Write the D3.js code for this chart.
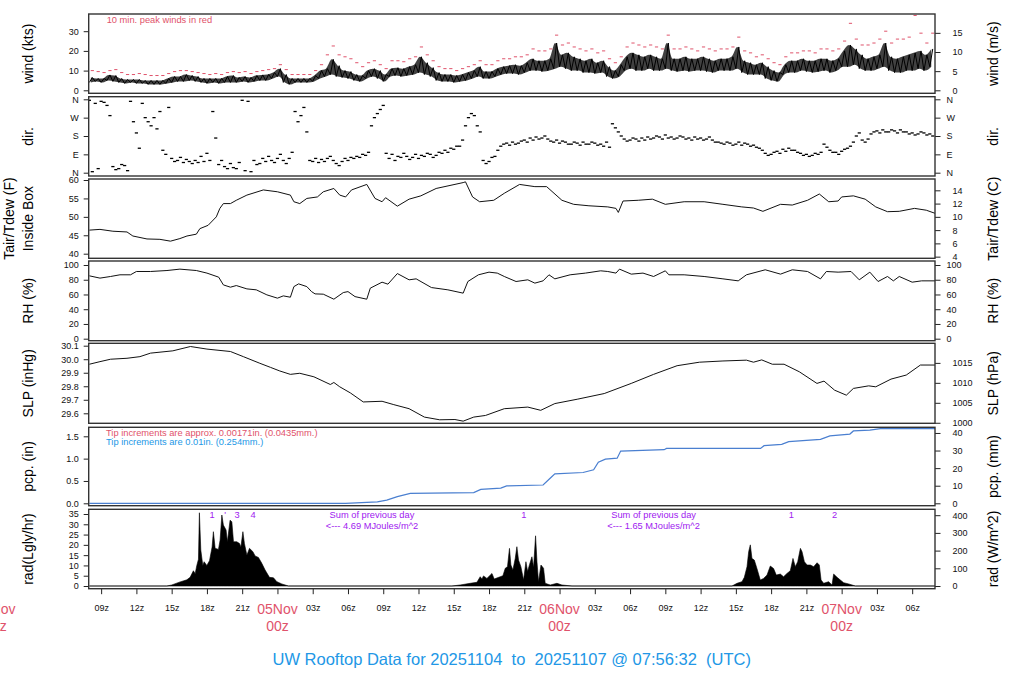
<!DOCTYPE html>
<html><head><meta charset="utf-8">
<script src="https://cdn.jsdelivr.net/npm/d3@7/dist/d3.min.js"></script>
<style>
body{margin:0;background:#fff;}
svg{display:block;font-family:"Liberation Sans",Arial,Helvetica,sans-serif;}
</style></head><body>
<svg id="c" width="1024" height="700"></svg>
<script>
// ---------------- DATA (hours are counted from 04Nov 00z UTC) ----------------
const startHour = 7.942, endHour = 79.942;           // 04Nov 07:56:32 .. 07Nov 07:56:32
const binStartHour = 8, binStepHour = 0.5;           // 30-min bins for wind / gust / direction

const windLoKts = [
 4,4.5,4,5,4.5,4,3.5,4,3.5,3.5,3,3,
 3,3.5,4,4.5,4.5,5,4.5,4,3.5,4,3.5,4,
 4,4,4.5,4,4.5,5,5,6,7,4,3,4,
 4,4,4.5,6,7,8,7,6.5,6,5,4.5,6,
 7,6,4.5,7,7.5,7,7.5,8,9,8,7,5,
 4.5,4.5,4,4.5,5,6,7,6,6,7,8,8.5,
 8.5,8,9,10,10,9.5,10,11,12,11,10,10,
 9,9,8.5,9,7,6,7,10,11,10,10,11,
 10,10,11,10,9.5,10,9.5,10,10,9.5,9,10,
 10,10,11,9,8,8,8,6,5,4.5,8,9,
 9,10,9.5,9,9.5,10,9,10,12,12,13,11,
 10,10,11,12,10,9,9,10,10,11,10,12];
const windHiKts = [
 6.5,6,6,7.8,7.5,6,5.5,5.5,5.5,5,5,5,
 5,6,7,7,8,7.5,7,6,6,6,6,7,
 7.5,6.5,7,6.5,7.5,7.8,8,9,11,8,6,6,
 6,6,7.5,10,11,15.7,12.5,10,9.5,8,7.5,10,
 11,10,8,11,11.5,11,12,13,17,14,11.5,9,
 8,8,7.5,8,9,10,12,9.5,9.5,11,12,12.5,
 13,12.5,14,16,15,15,16,24,18,19,17,16,
 15,16,14,15,12,10,13,17,19,18,17,18,
 17,16,24,16,16,17,16,16,17,16,15,16,
 16,17,22,15,14,13,14,12,10,9,13,15,
 15,16,15,15,16,16,15,16,20,23,21,18,
 16,17,18,24,17,16,17,18,19,20,18,21];
const gustKts = [
 10,9.5,9,10,10.5,9,8,8,8.5,8,7.5,7.5,
 7.5,8.5,9.5,10,10,9.5,9,8.5,8,8.5,8,9,
 9.5,9,9.5,8.5,9.5,10,10.5,11,13,10.5,8,8,
 8,8,10,13,18,22.5,18,17,16,14,12,14,
 15,13,11,15,15,14.5,16,17,22,18,15,12,
 11,11,10,11,12,13,15,13,13,15,16,16,
 17,17,18,21,20,20,21,28,23,24,22,21,
 20,21,19,20,16,14,17,22,24,23,22,23,
 22,21,28,21,21,22,21,20,22,21,20,21,
 21,22,27,20,19,17,18,16,14,13,17,19,
 19,20,20,19,21,21,20,21,25,34,26,23,
 23,24,26,30,24,26,26,27,38,29,24,29];
const dirA = [
 355,340,350,330,30,20,35,350,195,340,250,270,
 300,90,70,60,50,55,60,80,95,300,40,30,
 45,20,355,350,60,45,55,60,70,60,70,300,
 280,200,55,50,55,80,45,55,60,70,75,85,
 230,290,330,70,60,75,80,75,70,80,90,85,
 95,100,115,130,230,290,230,60,55,80,130,145,
 150,145,160,170,175,170,165,150,145,150,140,145,
 150,140,145,140,150,240,200,165,160,165,170,175,
 170,175,185,175,170,175,170,175,170,165,160,150,
 140,145,140,135,140,135,120,95,90,105,115,120,
 110,95,90,85,90,140,110,100,105,120,150,195,
 150,190,205,210,200,205,210,200,195,190,195,190];
const dirB = [
 5,20,345,280,15,40,10,250,120,270,230,215,
 110,320,55,75,65,45,50,55,60,170,60,20,
 25,50,10,5,40,70,80,50,90,45,100,250,
 320,60,70,65,70,60,35,70,75,80,90,100,
 270,310,95,90,80,95,65,90,85,95,75,100,
 110,120,130,160,270,280,200,45,75,110,140,135,
 140,155,150,160,165,180,155,160,155,140,150,135,
 140,150,135,130,125,220,180,155,170,155,160,165,
 180,165,170,165,180,165,160,165,160,175,150,145,
 150,135,150,145,130,125,110,85,100,95,105,110,
 100,85,80,95,100,125,100,90,115,130,180,160,
 165,200,195,200,210,195,200,190,185,200,185,180];

const tempHour = [8.0,8.9,10.0,11.2,11.7,12.9,14.0,14.9,15.7,16.3,17.1,17.4,18.1,18.8,19.1,19.4,20.0,20.5,21.4,22.8,24.0,25.1,25.4,25.9,26.5,27.4,27.9,28.8,29.3,29.8,30.3,31.6,32.3,32.9,33.2,34.2,35.2,36.2,37.5,39.8,40.0,40.6,41.2,42.4,43.3,44.6,45.9,46.9,48.2,49.2,50.5,52.1,52.8,53.0,53.4,54.7,55.9,57.0,58.6,60.3,61.9,63.5,64.5,65.3,66.8,67.8,69.1,70.1,70.9,71.7,72.0,73.0,74.0,74.9,75.9,76.9,78.2,79.2,80.0];
const tempF = [46.4,46.6,46.1,45.9,44.8,44.0,43.9,43.4,44.1,44.8,45.3,46.8,47.7,50.0,52.3,53.6,53.6,54.5,55.9,57.3,56.8,55.9,54.1,53.6,55.0,55.4,56.8,57.7,55.9,55.4,57.3,58.8,55.0,54.1,55.2,52.9,54.8,55.7,57.7,59.3,59.5,55.4,54.1,54.5,56.4,58.8,58.2,58.2,54.5,53.4,53.0,52.7,52.3,51.2,54.3,54.5,54.8,53.4,54.1,54.1,53.4,52.7,52.4,51.5,53.4,53.2,54.5,56.2,54.1,54.3,55.4,55.7,54.8,52.7,51.4,51.5,52.3,51.8,50.9];

const rhHour = [8.0,8.9,9.8,10.6,11.5,12.0,13.2,14.6,15.7,17.1,18.0,19.0,19.4,20.0,20.5,21.4,22.2,23.1,24.0,24.5,25.1,25.4,25.8,26.5,26.9,27.2,27.9,28.8,29.6,30.0,30.6,31.6,31.9,32.9,33.4,34.2,35.2,35.8,37.1,38.5,39.8,40.2,41.1,42.0,42.7,43.3,44.3,45.3,45.9,46.6,47.1,47.6,48.9,50.2,51.5,52.1,52.8,53.1,54.1,55.1,56.0,57.0,57.3,58.6,60.3,61.9,63.2,63.9,65.5,66.8,67.8,69.1,70.2,70.7,71.7,72.8,73.5,74.4,75.1,75.9,76.4,76.9,78.0,78.8,80.0];
const rhPct = [85.3,82.2,84.4,86.7,86.7,91.2,91.2,92.5,94.4,92.5,89.0,83.5,73,69.9,72.1,67.6,66.3,59.5,55.0,58.1,56.3,70.7,74.4,70.7,63.9,60.8,60.4,53.6,62.6,63.9,57.1,53.6,68.6,76.7,74,88.4,79.9,81.2,69.4,66.3,61.8,77.6,86.7,90.3,89.0,84.4,77.6,79.9,75.4,78.5,86.7,81.2,86.7,89.0,92.1,91.2,89.0,94.4,87.6,89.0,84.4,92.1,86.7,86.7,84.4,81.2,78.5,86.7,93.5,87.6,93.5,91.2,81.2,91.2,90.3,91.2,79.9,90.3,77.6,84.4,78.5,84.4,76.7,78.5,78.5];

const slpHour = [8.0,8.9,9.8,11.2,12.3,13.2,15.1,16.6,18.0,20.0,21.1,22.5,23.4,24.2,25.1,25.9,27.1,28.5,28.8,29.3,30.2,31.3,32.9,33.9,35.2,36.5,37.8,39.1,39.8,40.7,41.7,43.3,45.3,46.4,47.6,49.5,51.8,54.1,56.0,58.0,59.9,61.9,63.9,64.5,65.2,66.1,67.1,68.4,69.9,70.5,71.4,72.4,73.0,74.3,74.9,76.2,77.5,78.7,80.0];
const slpInHg = [29.963,29.982,30.000,30.007,30.019,30.045,30.062,30.094,30.075,30.057,30.019,29.970,29.940,29.913,29.888,29.896,29.870,29.813,29.828,29.796,29.751,29.684,29.689,29.664,29.634,29.572,29.552,29.554,29.542,29.572,29.584,29.634,29.646,29.622,29.672,29.704,29.746,29.821,29.888,29.952,29.978,29.987,29.993,29.978,29.995,29.963,29.963,29.907,29.821,29.838,29.771,29.734,29.784,29.803,29.796,29.853,29.883,29.957,29.957];

const pcpHour = [8.0,29.8,32.5,33.3,34.2,35.3,40.7,41.3,43.0,43.5,46.6,47.2,47.6,50.0,50.9,51.3,51.9,52.9,53.2,56.9,57.1,65.1,65.4,66.9,67.5,70.2,71.0,72.7,73.0,74.4,75.3,80.0];
const pcpIn = [0,0,0.03,0.07,0.15,0.22,0.24,0.31,0.34,0.39,0.41,0.56,0.66,0.69,0.75,0.92,0.99,1.01,1.17,1.20,1.23,1.23,1.29,1.32,1.38,1.43,1.51,1.55,1.62,1.64,1.67,1.67];

const radHour = [8.0,14.59,15.01,15.72,16.29,16.57,16.85,17.0,17.14,17.28,17.36,17.48,17.65,17.76,17.99,18.22,18.44,18.55,18.70,18.98,19.12,19.27,19.40,19.63,19.74,19.97,20.12,20.26,20.54,20.77,20.89,21.06,21.19,21.40,21.62,21.91,22.10,22.38,22.67,22.95,23.32,23.66,23.95,24.37,24.94,
 38.84,39.55,40.40,40.97,41.25,41.40,41.53,41.82,42.25,42.44,42.95,43.18,43.38,43.57,43.74,43.86,44.03,44.23,44.37,44.51,44.71,44.94,45.14,45.28,45.45,45.65,45.79,45.96,46.08,46.21,46.42,46.64,46.78,47.21,47.78,48.20,49.06,
 62.67,63.10,63.52,63.72,63.95,64.09,64.23,64.37,64.57,64.80,65.08,65.36,65.65,65.93,66.21,66.44,66.78,67.06,67.35,67.63,67.86,68.06,68.26,68.49,68.63,68.83,69.06,69.34,69.62,69.91,70.10,70.25,70.47,70.89,71.18,71.32,71.61,71.89,72.17,72.60,73.17,80.0];
const radLgly = [0,0,0.5,2,3,4.2,7.4,6,10,13,35.6,17.5,10,11.8,10,12.3,19,26.4,18.3,17.8,22.3,34.5,29.6,27.2,21.5,32,31.2,21.5,21.5,20.7,19,26.4,20.7,15,18.3,16.7,14.6,13.9,11,7.8,4.2,4,2.1,1,0,
 0,0.5,1.3,1.8,4.5,3.4,4.9,3.7,6.1,3.4,4.5,5,8.6,9.4,18.3,10.2,7.8,13.4,19.1,12.6,9.4,2.9,11.8,7.1,10.5,14.2,9,24.4,11.8,2.1,10.2,8.6,1.3,0.5,1.3,0.5,0,
 0,1.3,2.1,4.2,9.4,16.7,20,13.4,12.6,8.4,2.9,3.7,5.3,9.7,8.5,5.3,5.8,4.5,6.1,7.4,13.4,9.4,11.8,18.3,16.7,11.8,10.2,10.2,9.4,11.3,10.2,2.9,1.3,2.1,0.5,5.8,4.2,2.9,1.6,1.0,0,0];

const radMarkHour = [18.44,19.55,20.57,21.93,44.97,67.72,71.4];
const radMarkText = ["1","'","3","4","1","1","2"];
const radSumHour = [32.04,56.0];
const radSumText = ["4.69","1.65"];

const hourTicks = [9,12,15,18,21,24,27,30,33,36,39,42,45,48,51,54,57,60,63,66,69,72,75,78];
const dayTicks = [0,24,48,72];
const dayLabels = ["04Nov","05Nov","06Nov","07Nov"];

const windTicks = [0,10,20,30], windMsTicks = [0,5,10,15];
const dirTicks = [0,90,180,270,360], dirLabels = ["N","E","S","W","N"];
const tempFTicks = [40,45,50,55,60], tempCTicks = [4,6,8,10,12,14];
const rhTicks = [0,20,40,60,80,100];
const slpTicks = [29.6,29.7,29.8,29.9,30.0,30.1], hpaTicks = [1000,1005,1010,1015];
const pcpTicks = [0,0.5,1.0,1.5], mmTicks = [0,10,20,30,40];
const radTicks = [0,5,10,15,20,25,30,35], wm2Ticks = [0,100,200,300,400];

const titleText = "UW Rooftop Data for 20251104  to  20251107 @ 07:56:32  (UTC)";

// ---------------- DRAWING ----------------
const RED = "#DF536B", BLUE = "#2297E6", PURPLE = "#A020F0", PCPBLUE = "#4a7fd0";
const svg = d3.select("#c");
const x = d3.scaleLinear().domain([startHour, endHour]).range([88.7, 935]);

const panels = [
  {top:14, bot:93.3, l:"wind (kts)", r:"wind (m/s)"},
  {top:96.7, bot:176, l:"dir.", r:"dir."},
  {top:179, bot:258.3, l:null, r:"Tair/Tdew (C)"},
  {top:261, bot:340.7, l:"RH (%)", r:"RH (%)"},
  {top:343.3, bot:423.3, l:"SLP (inHg)", r:"SLP (hPa)"},
  {top:427.3, bot:505.7, l:"pcp. (in)", r:"pcp. (mm)"},
  {top:509.3, bot:588.7, l:"rad(Lgly/hr)", r:"rad (W/m^2)"}
];

const yWind = d3.scaleLinear().domain([0,30]).range([90.3,31.2]);
const yWindMs = d3.scaleLinear().domain([0,30*0.514444]).range([90.3,31.2]);
const yDir = d3.scaleLinear().domain([0,360]).range([172.7,99.3]);
const yT = d3.scaleLinear().domain([40,60]).range([253.7,180]);
const yTC = d3.scaleLinear().domain([(40-32)/1.8,(60-32)/1.8]).range([253.7,180]);
const yRH = d3.scaleLinear().domain([0,100]).range([338.7,265]);
const ySLP = d3.scaleLinear().domain([29.6,30.1]).range([413.3,345.7]);
const yHpa = d3.scaleLinear().domain([29.6*33.8639,30.1*33.8639]).range([413.3,345.7]);
const yP = d3.scaleLinear().domain([0,1.5]).range([503.3,436.3]);
const yPmm = d3.scaleLinear().domain([0,1.5*25.4]).range([503.3,436.3]);
const yR = d3.scaleLinear().domain([0,35]).range([586,514]);
const yRW = d3.scaleLinear().domain([0,35*11.622]).range([586,514]);

const defs = svg.append("defs");
panels.forEach((p,i)=>{
  defs.append("clipPath").attr("id","cp"+i).append("rect")
    .attr("x",88.7).attr("y",p.top).attr("width",935-88.7).attr("height",p.bot-p.top);
});

function styleAxis(g){
  g.select(".domain").remove();
  g.selectAll("line").attr("stroke","#222").attr("stroke-width",1);
  g.selectAll("text").attr("font-size",9).attr("fill","#111")
    .attr("font-family",'"Liberation Sans",Arial,Helvetica,sans-serif');
}
function leftAxis(scale, vals, fmt){
  const g = svg.append("g").attr("transform","translate(88.7,0)")
    .call(d3.axisLeft(scale).tickValues(vals).tickSize(5).tickPadding(5).tickFormat(fmt));
  styleAxis(g);
}
function rightAxis(scale, vals, fmt, pad){
  const g = svg.append("g").attr("transform","translate(935,0)")
    .call(d3.axisRight(scale).tickValues(vals).tickSize(5.5).tickPadding(pad).tickFormat(fmt));
  styleAxis(g);
}
const f0 = d3.format("d"), f1 = d3.format(".1f");
leftAxis(yWind, windTicks, f0);       rightAxis(yWindMs, windMsTicks, f0, 12);
leftAxis(yDir, dirTicks, (d,i)=>dirLabels[i]); rightAxis(yDir, dirTicks, (d,i)=>dirLabels[i], 6);
leftAxis(yT, tempFTicks, f0);         rightAxis(yTC, tempCTicks, f0, 12);
leftAxis(yRH, rhTicks, f0);           rightAxis(yRH, rhTicks, f0, 6);
leftAxis(ySLP, slpTicks, f1);         rightAxis(yHpa, hpaTicks, f0, 12);
leftAxis(yP, pcpTicks, f1);           rightAxis(yPmm, mmTicks, f0, 12);
leftAxis(yR, radTicks, f0);           rightAxis(yRW, wm2Ticks, f0, 12);

// x axis
const xg = svg.append("g").attr("transform","translate(0,588.7)")
  .call(d3.axisBottom(x).tickValues(hourTicks).tickSize(5.5).tickPadding(10)
    .tickFormat(d => (d%24===0) ? "" : String(d%24).padStart(2,"0")+"z"));
styleAxis(xg);
dayTicks.forEach((d,i)=>{
  svg.append("text").attr("x",x(d)).attr("y",614).attr("text-anchor","middle")
    .attr("font-size",14).attr("fill",RED).text(dayLabels[i]);
  svg.append("text").attr("x",x(d)).attr("y",631).attr("text-anchor","middle")
    .attr("font-size",14).attr("fill",RED).text("00z");
});

// axis titles
function vtitle(txt, cx, cy, rot){
  svg.append("text").attr("transform",`translate(${cx},${cy}) rotate(${rot})`)
    .attr("text-anchor","middle").attr("dy","0.36em").attr("font-size",14).attr("fill","#000").text(txt);
}
panels.forEach(p=>{
  const cy = (p.top+p.bot)/2;
  if (p.l) vtitle(p.l, 28, cy, -90);
  vtitle(p.r, 993, cy, -90);
});
vtitle("Tair/Tdew (F)", 9, 218.6, -90);
vtitle("Inside Box", 27.5, 218.6, -90);

// ---- wind panel
const gW = svg.append("g").attr("clip-path","url(#cp0)");
const windBand = windLoKts.map((v,i)=>[binStartHour + i*binStepHour + binStepHour/4, v, windHiKts[i]]);
gW.append("path").datum(windBand)
  .attr("d", d3.area().x(d=>x(d[0])).y0(d=>yWind(d[1])).y1(d=>yWind(d[2])).curve(d3.curveMonotoneX))
  .attr("fill","#111").attr("fill-opacity",0.8);
const windPts = [];
windLoKts.forEach((v,i)=>{
  const t = binStartHour + i*binStepHour;
  windPts.push([t, v]);
  windPts.push([t + binStepHour/2, windHiKts[i]]);
});
gW.append("path").datum(windPts)
  .attr("d", d3.line().x(d=>x(d[0])).y(d=>yWind(d[1])))
  .attr("fill","none").attr("stroke","#000").attr("stroke-width",1);
gW.selectAll(".gust").data(gustKts).enter().append("line")
  .attr("x1",(d,i)=>x(binStartHour + i*binStepHour + 0.25)-1.6)
  .attr("x2",(d,i)=>x(binStartHour + i*binStepHour + 0.25)+1.6)
  .attr("y1",d=>yWind(d)).attr("y2",d=>yWind(d))
  .attr("stroke",RED).attr("stroke-width",1);
svg.append("text").attr("x",106.7).attr("y",23.3).attr("font-size",9.3).attr("fill",RED)
  .text("10 min. peak winds in red");

// ---- direction panel
const gD = svg.append("g").attr("clip-path","url(#cp1)");
function dirMarks(arr, off){
  gD.selectAll(null).data(arr).enter().append("rect")
    .attr("x",(d,i)=>x(binStartHour + i*binStepHour + off)-1.6)
    .attr("y",d=>yDir(d)-0.65).attr("width",3.2).attr("height",1.3).attr("fill","#000");
}
dirMarks(dirA, 0); dirMarks(dirB, 0.25);

// ---- temperature
svg.append("path").datum(tempHour.map((t,i)=>[t,tempF[i]])).attr("clip-path","url(#cp2)")
  .attr("d", d3.line().x(d=>x(d[0])).y(d=>yT(d[1])))
  .attr("fill","none").attr("stroke","#111").attr("stroke-width",1);
// ---- RH
svg.append("path").datum(rhHour.map((t,i)=>[t,rhPct[i]])).attr("clip-path","url(#cp3)")
  .attr("d", d3.line().x(d=>x(d[0])).y(d=>yRH(d[1])))
  .attr("fill","none").attr("stroke","#111").attr("stroke-width",1);
// ---- SLP
svg.append("path").datum(slpHour.map((t,i)=>[t,slpInHg[i]])).attr("clip-path","url(#cp4)")
  .attr("d", d3.line().x(d=>x(d[0])).y(d=>ySLP(d[1])))
  .attr("fill","none").attr("stroke","#111").attr("stroke-width",1);
// ---- precipitation
svg.append("path").datum(pcpHour.map((t,i)=>[t,pcpIn[i]])).attr("clip-path","url(#cp5)")
  .attr("d", d3.line().x(d=>x(d[0])).y(d=>yP(d[1])))
  .attr("fill","none").attr("stroke",PCPBLUE).attr("stroke-width",1.2);
svg.append("text").attr("x",106).attr("y",436).attr("font-size",9.3).attr("fill",RED)
  .text("Tip increments are approx. 0.00171in. (0.0435mm.)");
svg.append("text").attr("x",106).attr("y",445).attr("font-size",9.3).attr("fill",BLUE)
  .text("Tip increments are 0.01in. (0.254mm.)");

// ---- radiation
svg.append("path").datum(radHour.map((t,i)=>[t,radLgly[i]])).attr("clip-path","url(#cp6)")
  .attr("d", d3.area().x(d=>x(d[0])).y0(yR(0)).y1(d=>yR(d[1])))
  .attr("fill","#000").attr("stroke","#000").attr("stroke-width",0.6);
radMarkHour.forEach((t,i)=>{
  svg.append("text").attr("x",x(t)).attr("y",518.3).attr("text-anchor","middle")
    .attr("font-size",9.3).attr("fill",PURPLE).text(radMarkText[i]);
});
radSumHour.forEach((t,i)=>{
  svg.append("text").attr("x",x(t)).attr("y",518.3).attr("text-anchor","middle")
    .attr("font-size",9.3).attr("fill",PURPLE).text("Sum of previous day");
  svg.append("text").attr("x",x(t)).attr("y",529).attr("text-anchor","middle")
    .attr("font-size",9.3).attr("fill",PURPLE).text("<--- " + radSumText[i] + " MJoules/m^2");
});

// panel boxes
panels.forEach(p=>{
  svg.append("rect").attr("x",88.7).attr("y",p.top).attr("width",935-88.7).attr("height",p.bot-p.top)
    .attr("fill","none").attr("stroke","#333").attr("stroke-width",1.4);
});

// title
svg.append("text").attr("x",511.7).attr("y",665).attr("text-anchor","middle")
  .attr("font-size",16.5).attr("fill",BLUE).attr("xml:space","preserve")
  .style("white-space","pre").text(titleText);
</script>
</body></html>
